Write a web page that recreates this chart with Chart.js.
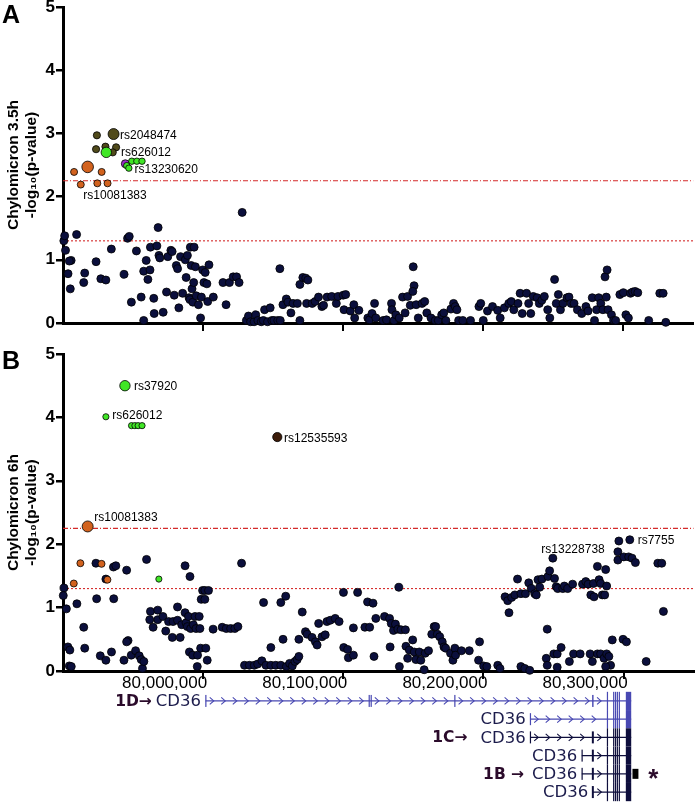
<!DOCTYPE html>
<html>
<head>
<meta charset="utf-8">
<script src="https://cdn.jsdelivr.net/npm/chart.js@4.4.1/dist/chart.umd.min.js"></script>
<style>
  body { margin: 0; background: #fff; width: 700px; height: 803px; position: relative; overflow: hidden; font-family: "Liberation Sans", Arial, sans-serif; }
  canvas { position: absolute; left: 0; }
  .panel-tag { position: absolute; left: 2px; font-weight: bold; font-size: 25px; color: #000; }
</style>
</head>
<body>
<canvas id="chartA" width="700" height="340" style="top:0"></canvas>
<canvas id="chartB" width="700" height="365" style="top:335px"></canvas>
<canvas id="genes" width="700" height="113" style="top:690px"></canvas>
<div class="panel-tag" style="top:0">A</div>
<div class="panel-tag" style="top:346px">B</div>
<script>
// positions in kb on chr7, values are -log10(p)
const xTicks = [80000, 80100, 80200, 80300];
const yTicks = [0, 1, 2, 3, 4, 5];
const thresholds = [2.25, 1.30];

// ---- Panel A : chylomicron 3.5h ----
const aNavyPos = [
  79900.6,79901.2,79901.8,79903.6,79905.2,79905.8,79904.5,79909.7,79914.8,79915.5,
  79923.6,79927.0,79930.6,79934.5,79943.6,79946.1,79947.3,79948.8,79952.4,79955.8,
  79957.6,79957.6,79959.4,79960.6,79962.1,79962.4,79964.8,79965.1,79967.0,79967.9,
  79968.5,79969.1,79971.5,79973.9,79974.8,79977.0,79977.9,79979.4,79980.9,79981.8,
  79982.7,79983.9,79985.4,79987.3,79988.8,79987.9,79990.9,79993.6,79991.5,79994.5,
  79990.0,79992.1,79993.3,79990.6,79992.7,79995.1,79996.7,79998.2,79998.8,79999.7,
  80000.6,80001.5,80002.7,80003.3,80004.2,80007.3,80014.2,80016.4,80018.8,80021.5,
  80023.9,80025.7,80027.9,80030.9,80032.4,80033.9,80036.4,80037.6,80039.1,80041.5,
  80043.0,80043.9,80046.0,80047.9,80049.1,80050.6,80053.3,80055.1,80054.8,80057.0,
  80059.4,80060.6,80062.7,80064.2,80067.3,80069.1,80069.1,80071.2,80073.3,80074.8,
  80073.9,80077.9,80080.0,80082.4,80084.8,80086.0,80088.5,80091.8,80095.1,80096.3,
  80100.0,80101.8,80100.6,80105.1,80107.6,80108.2,80111.2,80117.6,80118.8,80120.6,
  80122.4,80123.3,80128.5,80130.9,80134.5,80134.8,80136.3,80137.6,80140.0,80142.4,
  80144.2,80146.0,80147.9,80150.0,80150.6,80149.7,80152.1,80153.6,80156.3,80158.2,
  80159.7,80162.7,80165.7,80167.9,80170.3,80171.8,80173.3,80176.9,80178.8,80180.0,
  80181.2,80182.4,80185.4,80190.9,80196.9,80198.2,80200.0,80203.0,80206.6,80210.3,
  80212.1,80215.1,80218.2,80220.0,80221.8,80224.8,80226.3,80227.8,80230.9,80232.4,
  80233.9,80235.7,80238.5,80240.0,80241.8,80243.6,80246.0,80247.5,80250.9,80252.1,
  80253.6,80255.1,80256.9,80259.7,80261.2,80262.7,80264.8,80267.2,80270.3,80273.3,
  80274.8,80277.8,80279.4,80280.9,80282.4,80283.9,80285.4,80286.9,80288.4,80287.8,
  80289.1,80291.5,80293.0,80294.5,80297.5,80300.0,80301.8,80303.6,80305.1,80306.6,
  80308.4,80310.3,80318.1,80326.0,80328.4,80330.3
];
const aNavyLogp = [
  1.30,1.38,1.15,0.78,0.54,0.99,0.98,1.40,0.64,0.79,
  0.97,0.70,0.68,1.17,0.77,1.34,1.37,0.33,1.14,0.41,
  0.04,0.82,0.99,0.69,0.84,1.20,0.39,0.15,1.22,1.51,
  1.07,1.03,0.17,0.49,1.05,1.15,1.13,0.44,0.91,0.86,
  0.24,1.05,0.47,1.00,1.07,0.72,1.20,1.20,0.91,0.89,
  0.40,0.54,0.64,0.37,0.33,0.43,0.29,0.08,0.41,0.84,
  0.64,0.80,0.62,0.34,0.92,0.41,0.64,0.29,0.64,0.73,
  0.73,0.64,1.75,0.04,0.11,0.02,0.02,0.13,0.04,0.02,
  0.04,0.21,0.02,0.24,0.04,0.04,0.04,0.04,0.86,0.29,
  0.38,0.33,0.16,0.31,0.31,0.04,0.61,0.72,0.71,0.68,
  0.31,0.31,0.34,0.41,0.26,0.28,0.41,0.42,0.31,0.42,
  0.44,0.45,0.21,0.19,0.29,0.08,0.20,0.08,0.05,0.15,
  0.31,0.08,0.04,0.05,0.31,0.21,0.04,0.13,0.08,0.41,
  0.16,0.42,0.28,0.89,0.59,0.50,0.29,0.08,0.31,0.34,
  0.16,0.08,0.04,0.04,0.13,0.16,0.04,0.22,0.31,0.26,
  0.21,0.04,0.04,0.04,0.26,0.31,0.04,0.19,0.26,0.20,
  0.08,0.24,0.31,0.34,0.21,0.31,0.47,0.15,0.47,0.31,
  0.15,0.42,0.40,0.31,0.36,0.42,0.21,0.08,0.69,0.31,
  0.45,0.21,0.31,0.40,0.41,0.31,0.31,0.21,0.15,0.26,
  0.19,0.40,0.04,0.21,0.40,0.31,0.21,0.73,0.84,0.41,
  0.21,0.13,0.04,0.04,0.45,0.48,0.13,0.08,0.47,0.49,
  0.50,0.48,0.04,0.47,0.47,0.01
];
const aOlivePos = [79924.2, 79923.6, 79930.3, 79937.9, 79935.5];
const aOliveLogp = [2.97, 2.75, 2.79, 2.78, 2.70];
const aOliveLeadPos = [79936.1];
const aOliveLeadLogp = [2.99];
const aGreenPos = [79949.1, 79952.7, 79956.4, 79945.5, 79947.0];
const aGreenLogp = [2.56, 2.56, 2.56, 2.49, 2.45];
const aGreenLeadPos = [79930.9];
const aGreenLeadLogp = [2.70];
const aPurplePos = [79944.5];
const aPurpleLogp = [2.52];
const aOrangePos = [79907.9, 79927.6, 79912.7, 79924.5, 79931.8];
const aOrangeLogp = [2.39, 2.39, 2.19, 2.21, 2.21];
const aOrangeLeadPos = [79917.6];
const aOrangeLeadLogp = [2.47];
const aLabels = ['rs2048474', 'rs626012', 'rs13230620', 'rs10081383'];
const aLabelPos = [79940.7, 79941.4, 79951.1, 79914.5];
const aLabelLogp = [2.96, 2.69, 2.42, 2.02];

// ---- Panel B : chylomicron 6h ----
const bNavyPos = [
  79900.7,79900.2,79902.4,79909.9,79914.8,79903.5,79904.9,79904.5,79905.9,79915.5,
  79923.5,79924.0,79926.6,79930.6,79934.6,79930.6,79936.0,79937.7,79936.2,79945.4,
  79943.5,79946.4,79945.4,79948.7,79951.8,79954.4,79955.8,79956.7,79957.7,79959.6,
  79961.9,79964.3,79962.4,79967.6,79967.6,79971.3,79973.3,79975.3,79978.0,79978.5,
  79981.7,79981.7,79983.6,79984.7,79987.1,79987.1,79987.8,79988.7,79990.6,79990.2,
  79989.5,79991.1,79992.5,79993.0,79994.2,79994.9,79996.0,79997.2,79997.7,79995.8,
  79998.2,79998.6,79999.6,80001.2,80003.8,80001.2,80001.9,80002.9,80007.1,80013.6,
  80016.5,80019.6,80022.6,80024.8,80027.4,80029.5,80033.0,80036.5,80038.9,80041.9,
  80044.8,80048.3,80051.8,80055.4,80059.4,80061.7,80063.6,80065.5,80067.1,80068.3,
  80043.1,80048.3,80055.4,80057.0,80058.9,80068.3,80070.7,80073.0,80074.2,80077.7,
  80080.1,80081.3,80082.4,80084.8,80087.1,80088.3,80090.7,80094.2,80097.0,80100.1,
  80100.3,80103.1,80103.6,80107.2,80107.2,80110.2,80115.4,80117.3,80118.8,80121.2,
  80121.9,80123.2,80129.4,80133.0,80133.4,80134.2,80135.8,80137.2,80138.9,80140.0,
  80141.2,80139.6,80144.3,80144.7,80145.9,80147.1,80149.5,80150.6,80151.8,80154.2,
  80155.3,80157.7,80158.4,80160.8,80163.1,80164.8,80165.9,80167.1,80168.8,80170.6,
  80171.8,80173.0,80176.5,80178.2,80179.6,80180.1,80184.3,80189.9,80196.5,80197.2,
  80200.1,80202.4,80210.2,80211.8,80226.7,80229.5,80233.0,80215.4,80217.3,80218.2,
  80220.1,80222.4,80224.3,80226.7,80230.0,80232.3,80234.2,80236.6,80237.7,80238.9,
  80240.1,80241.7,80246.0,80247.2,80249.5,80250.7,80251.9,80253.0,80256.6,80257.7,
  80260.1,80263.6,80270.7,80273.0,80274.7,80276.6,80278.5,80278.9,80281.3,80282.5,
  80283.6,80284.8,80286.5,80287.2,80287.9,80245.5,80244.8,80245.5,80250.2,80252.6,
  80255.4,80252.6,80261.3,80264.3,80269.0,80276.1,80277.7,80281.3,80283.6,80286.0,
  80287.9,80289.5,80290.7,80287.2,80291.9,80299.6,80302.0,80316.1,80328.4,80324.4,
  80327.2,80296.6,80304.4,80295.9,80295.9,80300.1,80303.6,80306.0,80308.4
];
const bNavyLogp = [
  1.31,1.19,0.98,1.06,0.69,0.38,0.33,0.08,0.07,0.36,
  1.70,1.14,0.24,0.17,0.30,1.45,1.64,1.66,1.14,1.59,
  0.17,0.48,0.46,0.25,0.32,0.24,0.18,0.04,0.15,1.76,
  0.81,0.69,0.94,0.96,0.81,0.86,0.63,0.78,0.53,0.78,
  1.01,0.80,0.53,0.73,0.92,1.66,0.76,0.70,1.49,0.30,
  0.86,0.67,0.25,0.73,0.86,0.67,0.25,0.86,0.67,0.07,
  0.36,1.13,1.27,1.27,1.27,1.13,0.36,0.17,0.66,0.69,
  0.67,0.67,0.67,0.70,1.70,0.09,0.09,0.09,0.11,0.16,
  0.09,0.09,0.09,0.09,0.07,0.12,0.08,0.15,0.18,0.23,
  1.08,0.37,1.08,0.50,1.18,0.50,0.93,0.62,0.58,0.53,
  0.46,0.41,0.75,0.54,0.57,0.78,0.80,0.83,0.78,1.24,
  0.37,0.34,0.21,0.68,0.25,1.24,0.69,1.09,0.69,1.07,
  0.23,0.83,0.86,0.83,0.38,0.75,0.64,0.74,0.66,0.07,
  0.65,1.32,0.65,0.39,0.20,0.33,0.49,0.30,0.18,0.30,
  0.17,0.02,0.28,0.32,0.58,0.70,0.70,0.58,0.54,0.46,
  0.38,0.36,0.28,0.17,0.36,0.25,0.32,0.32,0.17,0.46,
  0.08,0.07,0.09,0.04,0.07,0.04,0.01,1.17,1.11,0.92,
  1.16,1.20,1.45,1.22,1.22,1.39,1.30,1.22,1.20,1.44,
  1.32,1.45,1.49,1.58,1.78,1.46,1.33,1.30,1.30,1.34,
  1.30,1.37,1.37,1.41,1.37,1.20,1.38,1.17,1.65,1.44,
  1.38,1.20,1.20,1.60,1.34,0.66,0.20,0.09,0.27,0.27,
  0.37,0.06,0.15,0.27,0.27,0.27,0.15,0.27,0.27,0.20,
  0.27,0.23,0.09,0.07,0.49,0.50,0.46,0.15,0.94,1.70,
  1.70,2.05,2.07,1.88,1.75,1.80,1.80,1.78,1.71
];
const bGreenLeadPos = [79944.2];
const bGreenLeadLogp = [4.50];
const bGreenPos = [79930.6, 79948.9, 79951.3, 79953.6, 79956.4, 79968.4];
const bGreenLogp = [4.01, 3.87, 3.87, 3.87, 3.87, 1.45];
const bBrownPos = [80052.9];
const bBrownLogp = [3.69];
const bOrangeLeadPos = [79917.6];
const bOrangeLeadLogp = [2.28];
const bOrangePos = [79912.4, 79907.7, 79927.5, 79931.7];
const bOrangeLogp = [1.70, 1.38, 1.69, 1.44];
const bLabels = ['rs37920', 'rs626012', 'rs12535593', 'rs10081383', 'rs13228738', 'rs7755'];
const bLabelPos = [79950.6, 79935.2, 80057.7, 79922.3, 80241.3, 80310.0];
const bLabelLogp = [4.48, 4.02, 3.66, 2.42, 1.92, 2.05];

// ---- CD36 transcripts ----
const txRows = [1, 2, 3, 4, 5, 6];
const txStart = [80000.7, 80230.0, 80230.0, 80266.5, 80266.5, 80274.2];
const txEnd = [80301.4, 80301.4, 80301.4, 80301.4, 80301.4, 80301.4];
const txNames = ['CD36', 'CD36', 'CD36', 'CD36', 'CD36', 'CD36'];
const txTags = ['1D\u2192', '', '1C\u2192', '', '1B \u2192', ''];
const txFirstExons = [
  [[80000.5, 80001.2], [80115.9, 80116.4], [80117.3, 80117.8], [80176.4, 80177.0], [80273.8, 80274.8]],
  [[80229.8, 80230.4]],
  [[80229.8, 80230.4], [80273.6, 80275.0]],
  [[80266.3, 80266.9], [80273.6, 80275.0]],
  [[80266.3, 80266.9], [80273.6, 80275.0]],
  [[80273.6, 80275.0]]
];
const sharedExons = [[80284.2, 80284.9], [80288.6, 80289.1], [80289.9, 80290.4], [80291.2, 80291.7], [80292.6, 80293.2], [80297.6, 80301.4]];
const extraExonRow = 5;
const extraExon = [80302.3, 80306.5];
const asteriskPos = 80317;

const X_MIN = 79900, X_MAX = 80350;
const FONT = '"Liberation Sans", Arial, sans-serif';
Chart.defaults.font.family = FONT;
Chart.defaults.color = '#000';

const pts = (xs, ys) => xs.map((x, i) => ({ x: x, y: ys[i] }));

function dots(xs, ys, color, r) {
  return { type: 'scatter', data: pts(xs, ys), backgroundColor: color, borderColor: '#000',
           borderWidth: 0.8, pointRadius: r, pointHoverRadius: r, clip: false };
}

function thresholdLines() {
  return thresholds.map((t, i) => ({
    type: 'line',
    data: [{ x: X_MIN, y: t }, { x: X_MAX, y: t }],
    borderColor: '#d42a2a', borderWidth: 1.1,
    borderDash: i === 0 ? [5, 2, 1, 2] : [2, 2],
    pointRadius: 0, fill: false
  }));
}

function labelPlugin(names, xs, ys) {
  return {
    id: 'snpLabels',
    afterDatasetsDraw(chart) {
      const { ctx, scales: { x, y } } = chart;
      ctx.save();
      ctx.font = '12px ' + FONT;
      ctx.fillStyle = '#000';
      ctx.textBaseline = 'middle';
      names.forEach((n, i) => ctx.fillText(n, x.getPixelForValue(xs[i]), y.getPixelForValue(ys[i])));
      ctx.restore();
    }
  };
}

function makePanel(id, datasets, title, showX, padTop, xAxisH, labels) {
  return new Chart(document.getElementById(id), {
    type: 'scatter',
    data: { datasets: datasets },
    options: {
      responsive: false, animation: false, events: [],
      layout: { padding: { top: padTop, left: 0, right: 0, bottom: 0 } },
      plugins: { legend: { display: false }, tooltip: { enabled: false } },
      scales: {
        x: {
          type: 'linear', min: X_MIN, max: X_MAX,
          afterBuildTicks: s => { s.ticks = xTicks.map(v => ({ value: v })); },
          afterFit: s => { s.height = xAxisH; s.paddingLeft = 0; s.paddingRight = 0; },
          border: { display: true, color: '#000', width: 3 },
          grid: { drawOnChartArea: false, drawTicks: true, tickLength: 8, color: '#000', lineWidth: 2 },
          ticks: {
            display: showX, align: 'end', labelOffset: 4, padding: -6, maxRotation: 0,
            font: { size: 17 }, color: '#000',
            callback: v => String(Math.round(v * 1000)).replace(/\B(?=(\d{3})+(?!\d))/g, ',')
          }
        },
        y: {
          min: 0, max: 5,
          afterBuildTicks: s => { s.ticks = yTicks.map(v => ({ value: v })); },
          afterFit: s => { s.width = 63; s.paddingTop = 0; s.paddingBottom = 0; },
          border: { display: true, color: '#000', width: 3 },
          grid: { drawOnChartArea: false, drawTicks: true, tickLength: 7, color: '#000', lineWidth: 2.5 },
          ticks: { padding: 1, font: { size: 17, weight: 'bold' }, color: '#000' },
          title: {
            display: true, text: [title, '-log\u2081\u2080(p-value)'], color: '#000',
            font: { size: 15.5, weight: 'bold', lineHeight: 1.2 }, padding: { top: 4, bottom: 0 }
          }
        }
      }
    },
    plugins: [labels]
  });
}

const navy = '#0b0f3c', orange = '#d2621e', green = '#40e626', olive = '#514b1b', purple = '#9b2fc8', brown = '#3c1c0a';

makePanel('chartA', [
  dots(aGreenLeadPos, aGreenLeadLogp, green, 5.2),
  dots(aGreenPos, aGreenLogp, green, 3.2),
  dots(aPurplePos, aPurpleLogp, purple, 4),
  dots(aOliveLeadPos, aOliveLeadLogp, olive, 5.5),
  dots(aOlivePos, aOliveLogp, olive, 3.6),
  dots(aOrangeLeadPos, aOrangeLeadLogp, orange, 5.8),
  dots(aOrangePos, aOrangeLogp, orange, 3.5),
  dots(aNavyPos, aNavyLogp, navy, 4),
  ...thresholdLines()
], 'Chylomicron 3.5h', false, 7, 17, labelPlugin(aLabels, aLabelPos, aLabelLogp));

makePanel('chartB', [
  dots(bGreenLeadPos, bGreenLeadLogp, green, 5.2),
  dots(bGreenPos, bGreenLogp, green, 3.1),
  dots(bBrownPos, bBrownLogp, brown, 4.6),
  dots(bOrangeLeadPos, bOrangeLeadLogp, orange, 5.5),
  dots(bOrangePos, bOrangeLogp, orange, 3.5),
  dots(bNavyPos, bNavyLogp, navy, 4),
  ...thresholdLines()
], 'Chylomicron 6h', true, 19, 29, labelPlugin(bLabels, bLabelPos, bLabelLogp));

// ---- gene track ----
const rowColor = r => (r <= 2 ? '#4848b2' : '#0e0e3c');

const geneTrack = {
  id: 'geneTrack',
  afterDatasetsDraw(chart) {
    const { ctx, scales: { x, y } } = chart;
    const half = Math.abs(y.getPixelForValue(1.5) - y.getPixelForValue(1));
    ctx.save();
    txRows.forEach((row, i) => {
      const cy = y.getPixelForValue(row);
      const col = rowColor(row);
      ctx.fillStyle = col;
      ctx.strokeStyle = col;
      // exons
      txFirstExons[i].forEach(([s, e]) => {
        const x0 = x.getPixelForValue(s), x1 = x.getPixelForValue(e);
        ctx.fillRect(x0, cy - 6, Math.max(1.2, x1 - x0), 12);
      });
      sharedExons.forEach(([s, e]) => {
        const x0 = x.getPixelForValue(s), x1 = x.getPixelForValue(e);
        ctx.fillRect(x0, cy - half, Math.max(1.2, x1 - x0), half * 2);
      });
      if (row === extraExonRow) {
        ctx.fillStyle = '#000';
        const x0 = x.getPixelForValue(extraExon[0]), x1 = x.getPixelForValue(extraExon[1]);
        ctx.fillRect(x0, cy - 5, x1 - x0, 10);
        ctx.fillStyle = col;
      }
      // chevrons in the introns
      const marks = txFirstExons[i].concat(sharedExons);
      ctx.lineWidth = 1.1;
      ctx.beginPath();
      for (let k = 0; k < marks.length - 1; k++) {
        const a = x.getPixelForValue(marks[k][1]), b = x.getPixelForValue(marks[k + 1][0]);
        if (b - a < 10) continue;
        for (let px = a + 6; px < b - 3; px += 11.5) {
          ctx.moveTo(px - 2.5, cy - 3.5);
          ctx.lineTo(px + 1.5, cy);
          ctx.lineTo(px - 2.5, cy + 3.5);
        }
      }
      ctx.stroke();
      // names and isoform tags
      const sx = x.getPixelForValue(txStart[i]);
      ctx.font = '16.5px "DejaVu Sans", sans-serif';
      ctx.fillStyle = '#1c1c4c';
      ctx.textAlign = 'right';
      ctx.textBaseline = 'middle';
      ctx.fillText(txNames[i], sx - 4.5, cy + 1);
      if (txTags[i]) {
        const w = ctx.measureText(txNames[i]).width;
        const gap = [4, 0, 13, 0, 8, 0][i];
        ctx.font = 'bold 15.5px "DejaVu Sans", sans-serif';
        ctx.fillStyle = '#2b0b2b';
        ctx.fillText(txTags[i], sx - 4.5 - w - gap, cy + 1);
      }
      if (row === extraExonRow) {
        ctx.font = 'bold 26px ' + FONT;
        ctx.fillStyle = '#2b0b2b';
        ctx.textAlign = 'center';
        ctx.fillText('*', x.getPixelForValue(asteriskPos), cy + 6);
      }
    });
    ctx.restore();
  }
};

new Chart(document.getElementById('genes'), {
  type: 'line',
  data: {
    datasets: txRows.map((row, i) => ({
      data: [{ x: txStart[i], y: row }, { x: txEnd[i], y: row }],
      borderColor: rowColor(row), borderWidth: 1.3, pointRadius: 0, fill: false
    }))
  },
  options: {
    responsive: false, animation: false, events: [],
    layout: { padding: { left: 63, right: 0, top: 0, bottom: 0 } },
    plugins: { legend: { display: false }, tooltip: { enabled: false } },
    scales: {
      x: { type: 'linear', min: X_MIN, max: X_MAX, display: false },
      y: { type: 'linear', min: 0.4, max: 6.6, reverse: true, display: false }
    }
  },
  plugins: [geneTrack]
});
</script>
</body>
</html>
